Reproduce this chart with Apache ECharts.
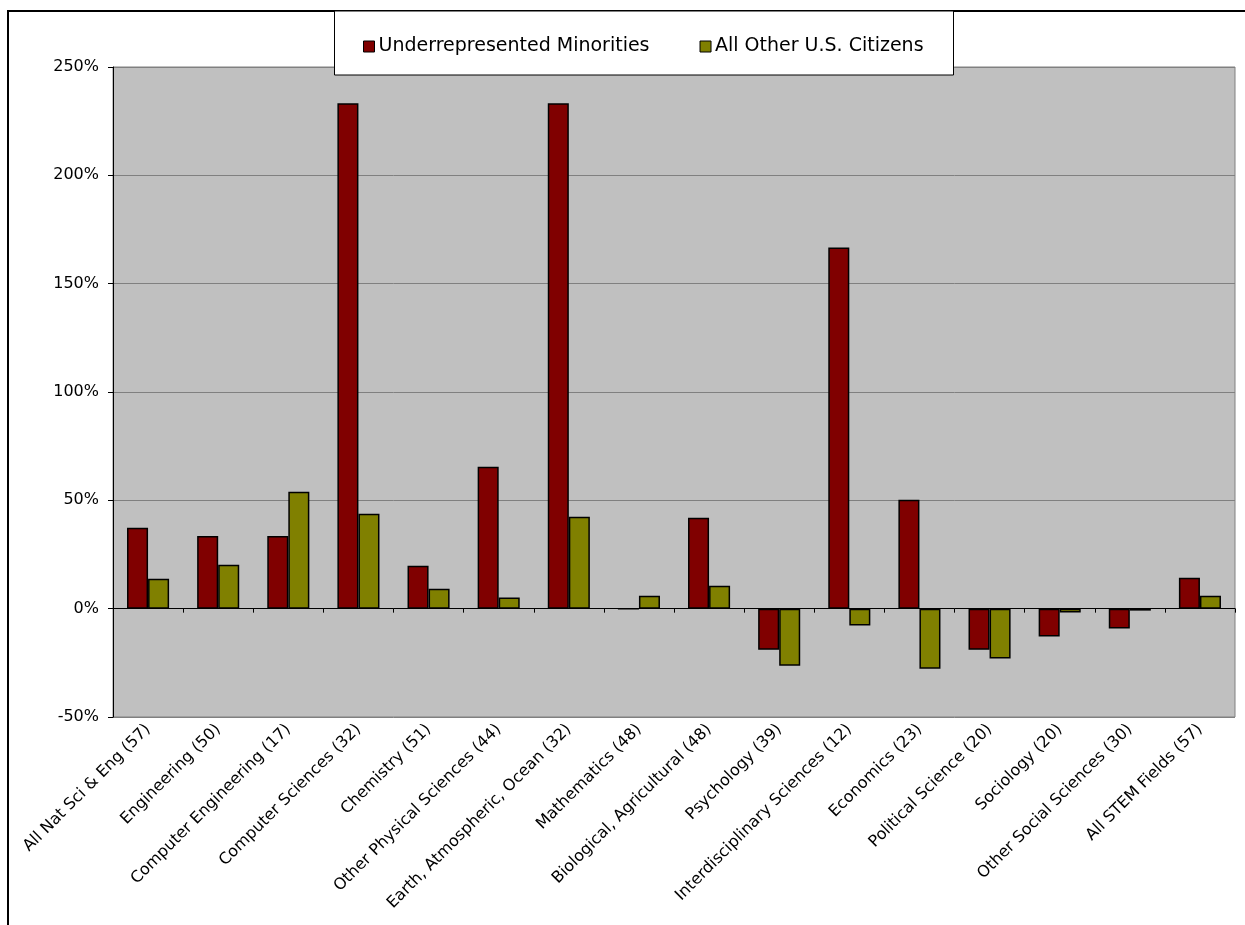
<!DOCTYPE html>
<html>
<head>
<meta charset="utf-8">
<script src="https://cdn.jsdelivr.net/npm/echarts@6/dist/echarts.min.js"></script>
<style>html,body{margin:0;padding:0;background:#fff;}#chart{width:1245px;height:925px;}</style>
</head>
<body>
<div id="chart"></div>
<script>
const categories = ["All Nat Sci & Eng (57)", "Engineering (50)", "Computer Engineering (17)", "Computer Sciences (32)", "Chemistry (51)", "Other Physical Sciences (44)", "Earth, Atmospheric, Ocean (32)", "Mathematics (48)", "Biological, Agricultural (48)", "Psychology (39)", "Interdisciplinary Sciences (12)", "Economics (23)", "Political Science (20)", "Sociology (20)", "Other Social Sciences (30)", "All STEM Fields (57)"];
const seriesNames = ["Underrepresented Minorities", "All Other U.S. Citizens"];
const urm = [37.4, 33.5, 33.5, 233.3, 19.8, 65.5, 233.3, 0, 42.0, -19.0, 166.7, 50.3, -19.0, -12.9, -9.2, 14.3];
const others = [13.8, 20.3, 54.0, 43.8, 9.2, 5.1, 42.4, 6.0, 10.6, -26.3, -7.8, -27.7, -23.0, -1.8, -0.9, 6.0];
const yTicks = {min: -50, max: 250, interval: 50};

const FONT = "DejaVu Sans";
const chart = echarts.init(document.getElementById('chart'), null, {renderer: 'canvas'});
chart.setOption({
  animation: false,
  backgroundColor: '#ffffff',
  textStyle: {fontFamily: FONT, color: '#000'},
  graphic: [
    {type: 'rect', z: 0, silent: true, shape: {x: 8, y: 11, width: 2000, height: 2000},
     style: {fill: null, stroke: '#000', lineWidth: 2}},
    {type: 'rect', z: 50, silent: true, shape: {x: 334.5, y: 11, width: 619, height: 64},
     style: {fill: '#fff', stroke: '#000', lineWidth: 1}}
  ],
  legend: {
    z: 60,
    left: 358, top: 32,
    itemWidth: 11, itemHeight: 11, itemGap: 50,
    icon: 'rect',
    itemStyle: {borderColor: '#000', borderWidth: 1},
    textStyle: {fontFamily: FONT, fontSize: 19, color: '#000', padding: [0, 0, 0, -1]},
    data: seriesNames
  },
  grid: {left: 113, top: 67, right: 10, bottom: 208, show: true, backgroundColor: '#C0C0C0', borderColor: '#808080', borderWidth: 1},
  xAxis: [
    {type: 'category', data: categories, boundaryGap: true,
     axisLine: {onZero: true, lineStyle: {color: '#000', width: 1}},
     axisTick: {show: true, interval: 0, length: 4, lineStyle: {color: '#000'}},
     axisLabel: {show: false}},
    {type: 'category', data: categories, position: 'bottom', boundaryGap: true,
     axisLine: {show: false, onZero: false}, axisTick: {show: false},
     axisLabel: {show: true, rotate: 45, interval: 0, margin: 10, fontFamily: FONT, fontSize: 16, color: '#000'}}
  ],
  yAxis: {
    type: 'value', min: yTicks.min, max: yTicks.max, interval: yTicks.interval,
    axisLine: {show: true, lineStyle: {color: '#000'}},
    axisTick: {show: true, length: 5, lineStyle: {color: '#000'}},
    axisLabel: {formatter: '{value}%', fontFamily: FONT, fontSize: 16, color: '#000', margin: 14},
    splitLine: {show: true, lineStyle: {color: '#808080', width: 1}}
  },
  series: [
    {name: seriesNames[0], type: 'bar', xAxisIndex: 0, data: urm, barGap: '0%', barCategoryGap: '40%',
     itemStyle: {color: '#800000', borderColor: '#000', borderWidth: 1.5}},
    {name: seriesNames[1], type: 'bar', xAxisIndex: 0, data: others, barGap: '0%', barCategoryGap: '40%',
     itemStyle: {color: '#808000', borderColor: '#000', borderWidth: 1.5}}
  ]
});
</script>
</body>
</html>
